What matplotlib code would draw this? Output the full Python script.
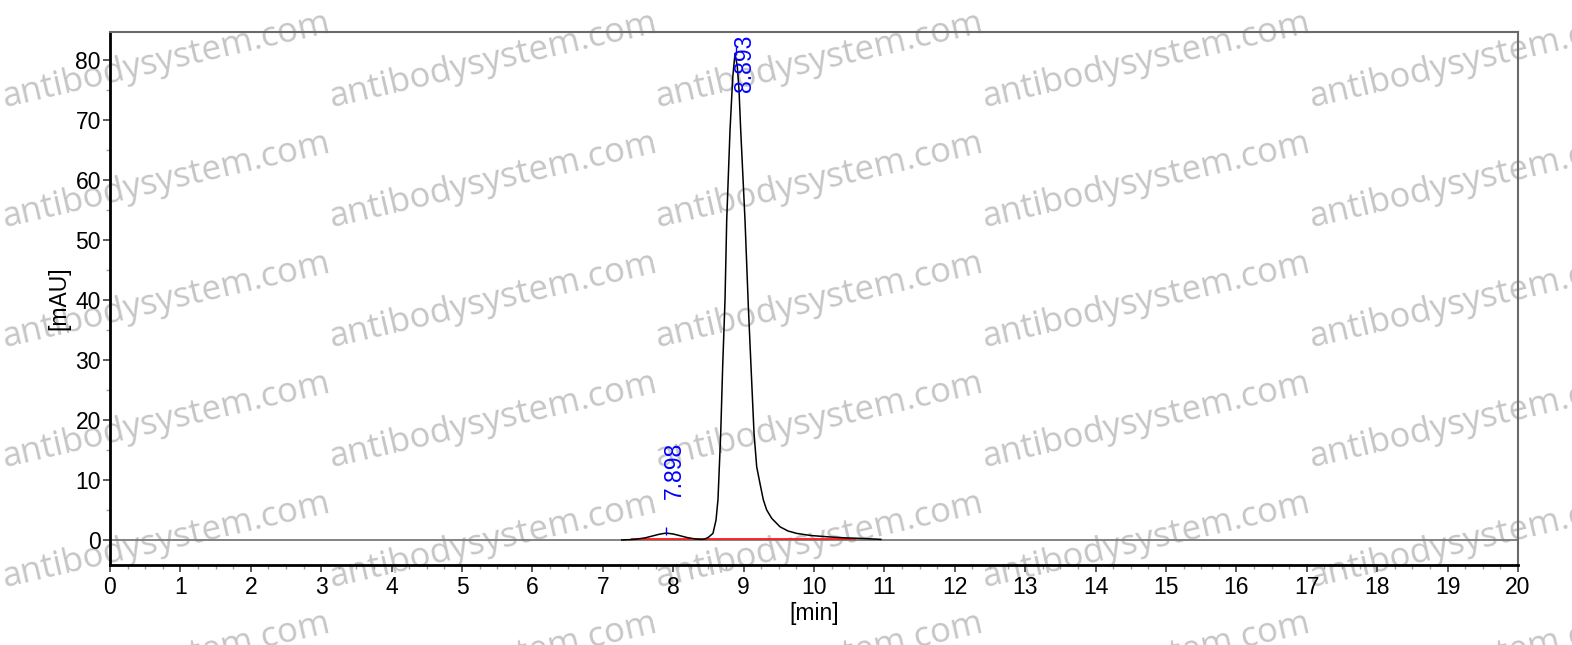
import matplotlib
matplotlib.use("Agg")
import matplotlib.pyplot as plt
from matplotlib.ticker import MultipleLocator

# chromatogram trace (time in min, signal in mAU)
trace_time = [7.27, 7.45, 7.60, 7.70, 7.80, 7.90, 8.00, 8.10, 8.20, 8.30, 8.40, 8.45,
              8.50, 8.565, 8.608, 8.636, 8.675, 8.703, 8.736, 8.760, 8.807, 8.845, 8.878,
              8.91, 8.935, 8.959, 9.020, 9.067, 9.105, 9.148, 9.186, 9.233, 9.28,
              9.328, 9.40, 9.517, 9.63, 9.754, 9.95, 10.227, 10.45, 10.696, 10.95]
trace_mau = [0.0, 0.1, 0.35, 0.65, 0.95, 1.15, 1.0, 0.7, 0.4, 0.2, 0.1, 0.15,
             0.45, 1.1, 3.3, 6.7, 17.8, 29.0, 40.0, 53.3, 68.3, 77.0, 81.1,
             79.0, 75.0, 68.3, 53.3, 39.0, 29.0, 17.8, 12.2, 9.4, 6.7,
             5.0, 3.6, 2.2, 1.5, 1.1, 0.75, 0.5, 0.35, 0.25, 0.1]

# integration baseline
baseline_time = [7.41, 10.58]
baseline_mau = [0.1, 0.1]

# peak labels
peak_time = [7.898, 8.893]
peak_mau = [1.15, 81.1]
peak_label = ["7.898", "8.893"]
label_mau = [6.8, 74.6]

watermark = "antibodysystem.com"
wm_cols_px = [5, 332, 658, 985, 1312]
wm_rows_px = [107, 227, 347, 467, 587, 707]

W, H = 1572, 645
fig = plt.figure(figsize=(W / 100, H / 100), dpi=100)
ax = fig.add_axes([110 / W, 1 - 565 / H, (1518 - 110) / W, (565 - 32) / H])
ax.patch.set_facecolor("none")

# watermark behind everything
for cx in wm_cols_px:
    for ry in wm_rows_px:
        fig.text(cx / W, 1 - ry / H, watermark, rotation=13, rotation_mode="anchor",
                 ha="left", va="baseline", fontsize=25, family="Open Sans",
                 color="#c6c6c6", zorder=-5)

ax.axhline(0, color="#7a7a7a", lw=1.3, zorder=1)
ax.plot(baseline_time, baseline_mau, color="#ff1a1a", lw=1.3, zorder=2)
ax.plot(trace_time, trace_mau, color="black", lw=1.1, zorder=3)

for t, m, lab, ly in zip(peak_time, peak_mau, peak_label, label_mau):
    ax.vlines(t, m - 0.3, m + 1.0, color="blue", lw=1, zorder=4)
    ax.annotate(lab, xy=(t, ly), xytext=(8, 0), textcoords="offset pixels",
                rotation=90, ha="center", va="bottom", color="blue",
                fontsize=16.5, family="Liberation Sans", annotation_clip=False)

ax.set_xlim(0, 20)
ax.set_ylim(-4.17, 84.67)
ax.xaxis.set_major_locator(MultipleLocator(1))
ax.xaxis.set_minor_locator(MultipleLocator(0.25))
ax.yaxis.set_major_locator(MultipleLocator(10))
ax.yaxis.set_minor_locator(MultipleLocator(5))

ax.tick_params(which="major", direction="out", length=5, width=1.2, color="#404040",
               labelsize=16.5, pad=3)
ax.tick_params(axis="y", which="major", pad=1.5)
ax.tick_params(which="minor", direction="out", length=3, width=1, color="#a0a0a0")
for lab in ax.get_xticklabels() + ax.get_yticklabels():
    lab.set_family("Liberation Sans")

for side in ["left", "bottom"]:
    ax.spines[side].set_color("black")
    ax.spines[side].set_linewidth(2)
for side in ["top", "right"]:
    ax.spines[side].set_color("#6a6a6a")
    ax.spines[side].set_linewidth(1.5)

ax.set_xlabel("[min]", fontsize=16.5, family="Liberation Sans", labelpad=2)
ax.set_ylabel("[mAU]", fontsize=16.5, family="Liberation Sans", labelpad=4)

fig.savefig("out.png", dpi=100)
